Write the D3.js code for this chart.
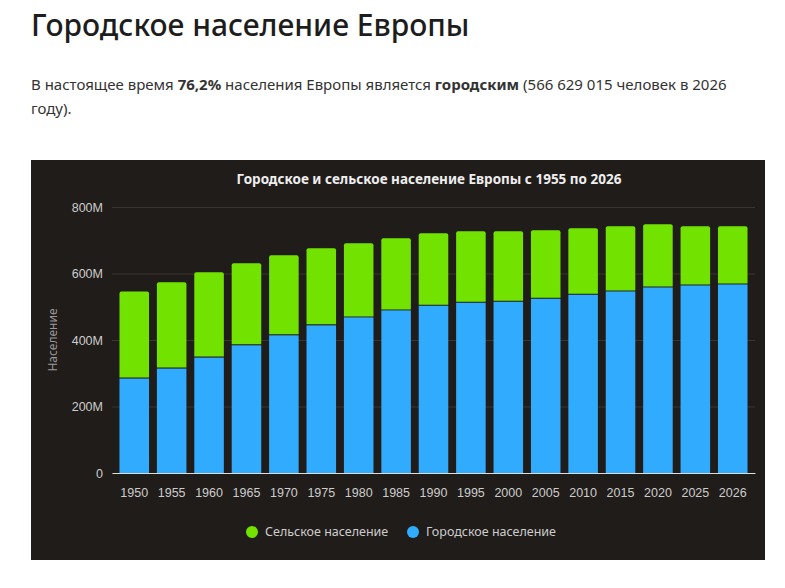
<!DOCTYPE html>
<html><head><meta charset="utf-8">
<script src="https://cdn.jsdelivr.net/npm/d3@7"></script>
<style>
body{margin:0;background:#fff;font-family:"Noto Sans","Open Sans",sans-serif;color:#222}
h1{position:absolute;left:31px;top:4px;margin:0;font-size:30px;font-weight:500;color:#1d1d1d}
p{position:absolute;left:31px;top:72px;margin:0;width:710px;font-size:15px;line-height:24px;color:#333}
svg{position:absolute;left:31px;top:160px}
</style></head><body>
<h1>Городское население Европы</h1>
<p>В настоящее время <b>76,2%</b> населения Европы является <b>городским</b> (566 629 015 человек в 2026 году).</p>
<script>
var years = ["1950","1955","1960","1965","1970","1975","1980","1985","1990","1995","2000","2005","2010","2015","2020","2025","2026"];
var urban = [284,314,347,384,414,444,468,489,503,512,515,524,536,546,558,564,567];
var total = [546,574,604,631,655,676,691,706,721,727,727,730,736,742,748,742,742];
var rural = total.map(function(t,i){ return t - urban[i]; });
var yTicks = [0,200,400,600,800];

var drawChart = function(){
  var w = 734, h = 400;
  var margin = {top: 47, right: 10, bottom: 87, left: 81};
  var svg = d3.select("body").append("svg").attr("width", w).attr("height", h);
  svg.append("rect").attr("width", w).attr("height", h).attr("fill", "#201c1a");

  var x = d3.scaleBand().domain(years).range([margin.left, w - margin.right]).paddingInner(0.21).paddingOuter(0.2);
  var y = d3.scaleLinear().domain([0, 800]).range([h - margin.bottom, margin.top]);

  svg.append("text").attr("x", w/2 + 31).attr("y", 24).attr("text-anchor", "middle")
     .attr("fill", "#eee").attr("font-size", 13.5).attr("font-weight", "bold")
     .text("Городское и сельское население Европы с 1955 по 2026");

  var ya = svg.append("g").attr("transform", "translate(" + margin.left + ",0)")
    .call(d3.axisLeft(y).tickValues(yTicks).tickSize(-(w - margin.left - margin.right))
      .tickFormat(function(d){ return d ? d + "M" : "0"; }));
  ya.select(".domain").remove();
  ya.selectAll("line").attr("stroke", "#3a3532");
  ya.selectAll("text").attr("fill", "#ccc").attr("font-size", 12.5).attr("dx", -6);

  svg.append("text").attr("transform", "translate(26," + y(400) + ") rotate(-90)")
     .attr("text-anchor", "middle").attr("fill", "#999").attr("font-size", 12).text("Население");

  var stack = years.map(function(d,i){ return {year: d, urban: urban[i], rural: rural[i]}; });
  svg.selectAll(".u").data(stack).enter().append("rect")
    .attr("x", function(d){ return x(d.year); }).attr("width", x.bandwidth())
    .attr("y", function(d){ return y(d.urban); })
    .attr("height", function(d){ return y(0) - y(d.urban); })
    .attr("fill", "#31abfd");
  svg.selectAll(".r").data(stack).enter().append("path")
    .attr("fill", "#72e300")
    .attr("d", function(d){
      var x0 = x(d.year), bw = x.bandwidth(), yt = y(d.urban + d.rural), yb = y(d.urban) - 1, r = 2;
      return "M" + x0 + "," + yb + "V" + (yt + r) + "Q" + x0 + "," + yt + " " + (x0 + r) + "," + yt +
        "H" + (x0 + bw - r) + "Q" + (x0 + bw) + "," + yt + " " + (x0 + bw) + "," + (yt + r) + "V" + yb + "Z";
    });

  var xa = svg.append("g").attr("transform", "translate(0," + y(0) + ")").call(d3.axisBottom(x).tickSize(0));
  xa.select(".domain").attr("stroke", "#ddd");
  xa.selectAll("text").attr("fill", "#ccc").attr("font-size", 12.5).attr("dy", "1.7em");

  var legend = [["Сельское население", "#72e300", 221], ["Городское население", "#31abfd", 382]];
  var lg = svg.selectAll(".lg").data(legend).enter().append("g");
  lg.append("circle").attr("cx", function(d){ return d[2]; }).attr("cy", 372).attr("r", 6).attr("fill", function(d){ return d[1]; });
  lg.append("text").attr("x", function(d){ return d[2] + 13; }).attr("y", 376)
    .attr("fill", "#ccc").attr("font-size", 12.5).text(function(d){ return d[0]; });
};
drawChart();
</script>
</body></html>
